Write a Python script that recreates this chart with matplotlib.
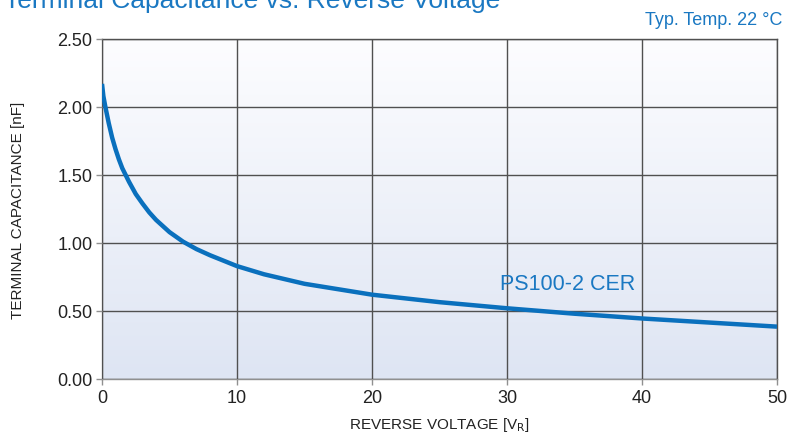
import numpy as np
import matplotlib
matplotlib.use('Agg')
import matplotlib.pyplot as plt

# reverse voltage [V] and terminal capacitance [nF]
voltage = [0, 0.1, 0.25, 0.5, 0.75, 1, 1.25, 1.5, 2, 2.5, 3, 3.5, 4, 5, 6, 7, 8,
           10, 12, 15, 20, 25, 30, 35, 40, 45, 50]
capacitance = [2.17, 2.08, 2.00, 1.88, 1.775, 1.69, 1.615, 1.55, 1.45, 1.36, 1.29,
               1.225, 1.17, 1.08, 1.01, 0.955, 0.91, 0.83, 0.77, 0.70, 0.62,
               0.565, 0.52, 0.48, 0.445, 0.415, 0.385]

xticks = [0, 10, 20, 30, 40, 50]
yticks = [0.0, 0.5, 1.0, 1.5, 2.0, 2.5]

blue = '#1a78c2'
line_blue = '#0a70bd'
grid_col = '#505050'

plt.rcParams['font.family'] = ['Liberation Sans', 'DejaVu Sans']

fig = plt.figure(figsize=(7.89, 4.39), dpi=100)
ax = fig.add_axes([0.1293, 0.1344, 0.8555, 0.7745])

# soft vertical gradient background
grad = np.linspace(0, 1, 256).reshape(-1, 1)
cmap = matplotlib.colors.LinearSegmentedColormap.from_list('bg', ['#dee5f3', '#fdfdff'])
ax.imshow(grad, aspect='auto', cmap=cmap, origin='lower',
          extent=[0, 50, 0, 2.5], zorder=0)

ax.plot(voltage, capacitance, color=line_blue, lw=3.2, solid_capstyle='butt',
        solid_joinstyle='round', zorder=3)

ax.set_xlim(0, 50)
ax.set_ylim(0, 2.5)
ax.set_xticks(xticks)
ax.set_yticks(yticks)
ax.set_yticklabels(['%.2f' % v for v in yticks])
ax.grid(True, color=grid_col, lw=1.0, zorder=1)
ax.set_axisbelow(False)
for s in ax.spines.values():
    s.set_color(grid_col)
    s.set_linewidth(1.0)
ax.spines['left'].set_color('#909090')
ax.spines['bottom'].set_color('#909090')
ax.tick_params(axis='both', labelsize=13, colors='#909090', labelcolor='#222222',
               length=4, width=1, pad=3)

ax.set_xlabel('REVERSE VOLTAGE [V$_{\\mathrm{R}}$]', fontsize=11, color='#222222', labelpad=7)
ax.set_ylabel('TERMINAL CAPACITANCE [nF]', fontsize=11, color='#222222', labelpad=23)

ax.text(29.5, 0.66, 'PS100-2 CER', fontsize=15.5, color=blue, zorder=4)

fig.text(0.005, 0.982, 'Terminal Capacitance vs. Reverse Voltage', fontsize=19,
         color=blue, va='baseline', ha='left')
fig.text(0.992, 0.943, 'Typ. Temp. 22 \u00b0C', fontsize=13, color=blue,
         va='baseline', ha='right')

fig.savefig('out.png', dpi=100)
